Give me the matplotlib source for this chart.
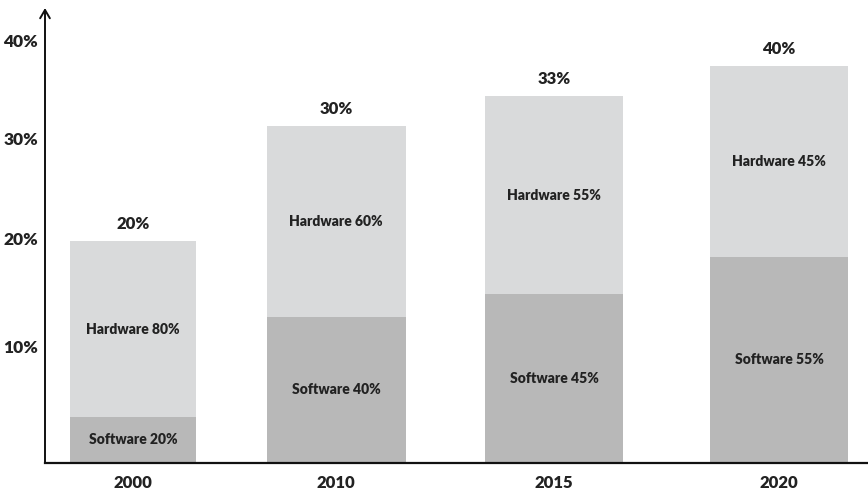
import matplotlib.pyplot as plt

# data (bar heights in % of the axis)
years = ['2000', '2010', '2015', '2020']
totals = [20.0, 30.4, 33.1, 35.8]
software = [4.1, 13.1, 15.2, 18.6]
total_labels = ['20%', '30%', '33%', '40%']
software_share = ['20%', '40%', '45%', '55%']
hardware_share = ['80%', '60%', '55%', '45%']
tick_labels = ['10%', '20%', '30%', '40%']

hardware = [t - s for t, s in zip(totals, software)]

# layout (pixel-like units along x, tick places along y)
x_pos = [88, 291, 509, 734]
widths = [126, 139, 138, 138]
tick_pos = [10.5, 20.2, 29.3, 38.1]

plt.rcParams['font.family'] = ['Lato', 'DejaVu Sans']
text_color = '#222222'
weight = 'heavy'

fig = plt.figure(figsize=(8.68, 4.92), dpi=100)
ax = fig.add_axes([45 / 868, 29.5 / 492, 823 / 868, 454.5 / 492])

ax.bar(x_pos, software, width=widths, color='#b8b8b8')
ax.bar(x_pos, hardware, width=widths, bottom=software, color='#d9dadb')

for x, s, h, t, ss, hs, tl in zip(x_pos, software, hardware, totals,
                                  software_share, hardware_share, total_labels):
    ax.text(x, s / 2, 'Software ' + ss, ha='center', va='center',
            fontsize=10, fontweight=weight, color=text_color)
    ax.text(x, s + h / 2, 'Hardware ' + hs, ha='center', va='center',
            fontsize=10, fontweight=weight, color=text_color)
    ax.annotate(tl, (x, t), xytext=(0, 12), textcoords='offset points',
                ha='center', va='center', fontsize=12, fontweight=weight,
                color=text_color)

ax.set_xlim(0, 823)
ax.set_ylim(0, 454.5 / 11.075)
ax.set_xticks(x_pos)
ax.set_xticklabels(years, fontsize=12, fontweight=weight, color=text_color)
ax.set_yticks(tick_pos)
ax.set_yticklabels(tick_labels, fontsize=12.5, fontweight=weight, color=text_color)
ax.tick_params(axis='x', length=0, pad=9)
ax.tick_params(axis='y', length=0, pad=5)

for side in ['top', 'right', 'left']:
    ax.spines[side].set_visible(False)
ax.spines['bottom'].set_linewidth(1.6)
ax.spines['bottom'].set_color('#111111')

# y axis with arrow head
ax.annotate('', xy=(0, 1), xytext=(0, 0), xycoords='axes fraction',
            arrowprops=dict(arrowstyle='->,head_width=0.35,head_length=0.6',
                            lw=1.4, color='#111111', shrinkA=0, shrinkB=0))

fig.savefig('out.png', dpi=100)
